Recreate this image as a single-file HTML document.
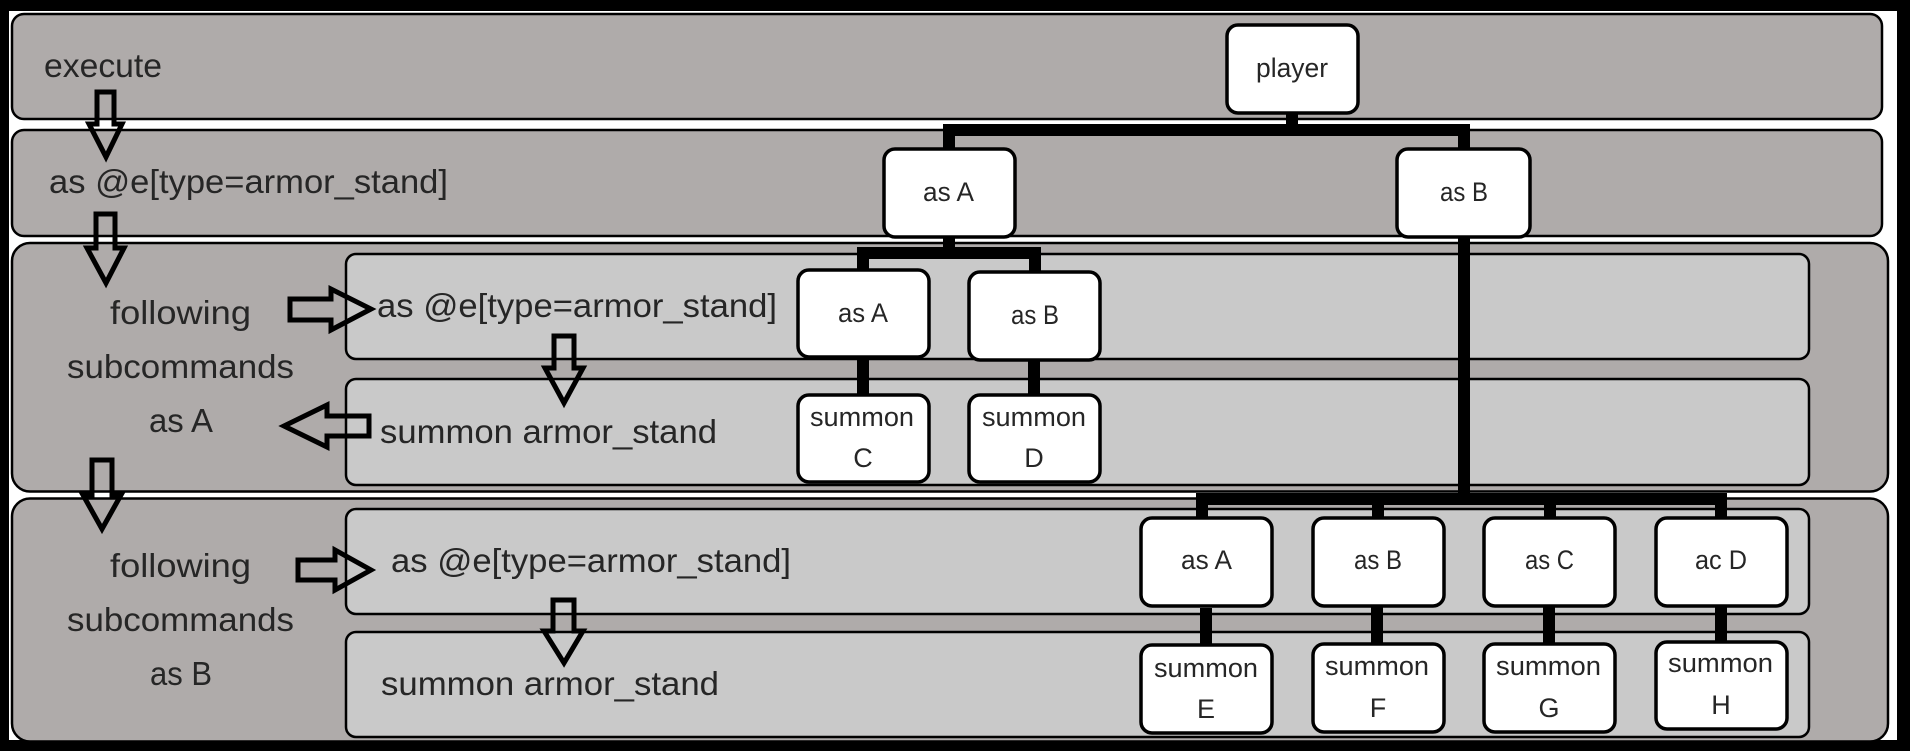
<!DOCTYPE html>
<html>
<head>
<meta charset="utf-8">
<style>
html,body{margin:0;padding:0;background:#fff}
svg{display:block}
text{font-family:"Liberation Sans",sans-serif;fill:#262626}
.l{font-size:33px}
.n{font-size:27px}
.p{fill:#afabaa;stroke:#000;stroke-width:2.5}
.i{fill:#c9c9c9;stroke:#000;stroke-width:2.5}
.b{fill:#fff;stroke:#000;stroke-width:3.5}
.a{fill:none;stroke:#000;stroke-width:5;stroke-linejoin:miter;stroke-miterlimit:3}
.c{fill:#000}
</style>
</head>
<body>
<svg xmlns="http://www.w3.org/2000/svg" width="1910" height="751" viewBox="0 0 1910 751">
<rect width="1910" height="751" fill="#fff"/>
<rect x="0" y="0" width="1910" height="11" fill="#000"/>
<rect x="0" y="740" width="1910" height="11" fill="#000"/>
<rect x="0" y="0" width="9" height="751" fill="#000"/>
<rect x="1897" y="0" width="13" height="751" fill="#000"/>

<rect class="p" x="12" y="14" width="1870" height="105" rx="12"/>
<rect class="p" x="12" y="130" width="1870" height="106" rx="12"/>
<rect class="p" x="12" y="243" width="1876" height="248.5" rx="18"/>
<rect class="p" x="12" y="498.5" width="1876" height="243" rx="18"/>

<rect class="i" x="346" y="254" width="1463" height="105" rx="10"/>
<rect class="i" x="346" y="379" width="1463" height="106" rx="10"/>
<rect class="i" x="346" y="509" width="1463" height="105" rx="10"/>
<rect class="i" x="346" y="632" width="1463" height="105" rx="10"/>

<!-- connectors -->
<rect class="c" x="1286" y="113" width="12" height="23"/>
<rect class="c" x="943" y="124" width="527" height="12"/>
<rect class="c" x="943" y="124" width="12" height="24"/>
<rect class="c" x="1458" y="124" width="12" height="24"/>
<rect class="c" x="943" y="237" width="12" height="22"/>
<rect class="c" x="857" y="247" width="184" height="12"/>
<rect class="c" x="857" y="247" width="12" height="22"/>
<rect class="c" x="1029" y="247" width="12" height="24"/>
<rect class="c" x="857" y="357" width="12" height="37"/>
<rect class="c" x="1028" y="360" width="12" height="34"/>
<rect class="c" x="1458" y="237" width="12" height="268"/>
<rect class="c" x="1196" y="493" width="531" height="12"/>
<rect class="c" x="1196" y="493" width="12" height="24"/>
<rect class="c" x="1372" y="500" width="12" height="17"/>
<rect class="c" x="1544" y="500" width="12" height="17"/>
<rect class="c" x="1715" y="493" width="12" height="24"/>
<rect class="c" x="1200" y="608" width="12" height="36"/>
<rect class="c" x="1371" y="606" width="12" height="37"/>
<rect class="c" x="1543" y="606" width="12" height="37"/>
<rect class="c" x="1715" y="606" width="12" height="35"/>

<!-- nodes -->
<rect class="b" x="1227" y="25" width="131" height="88" rx="11"/>
<rect class="b" x="884" y="149" width="131" height="88" rx="11"/>
<rect class="b" x="1397" y="149" width="133" height="88" rx="11"/>
<rect class="b" x="798" y="270" width="131" height="87" rx="11"/>
<rect class="b" x="969" y="272" width="131" height="88" rx="11"/>
<rect class="b" x="798" y="395" width="131" height="87" rx="11"/>
<rect class="b" x="969" y="395" width="131" height="87" rx="11"/>
<rect class="b" x="1141" y="518" width="131" height="88" rx="11"/>
<rect class="b" x="1313" y="518" width="131" height="88" rx="11"/>
<rect class="b" x="1484" y="518" width="131" height="88" rx="11"/>
<rect class="b" x="1656" y="518" width="131" height="88" rx="11"/>
<rect class="b" x="1141" y="645" width="131" height="88" rx="11"/>
<rect class="b" x="1313" y="644" width="131" height="88" rx="11"/>
<rect class="b" x="1484" y="644" width="131" height="88" rx="11"/>
<rect class="b" x="1656" y="642" width="131" height="87" rx="11"/>

<!-- arrows -->
<polygon class="a" points="97,92 114,92 114,124 122,124 106,157 89,124 97,124"/>
<polygon class="a" points="96,214 115,214 115,248 124,248 106,283 87,248 96,248"/>
<polygon class="a" points="290,299 331,299 331,289 371,309 331,330 331,320 290,320"/>
<polygon class="a" points="554,336 574,336 574,368 583,368 564,403 545,368 554,368"/>
<polygon class="a" points="369,416 327,416 327,405 284,426 327,447 327,436 369,436"/>
<polygon class="a" points="92,460 112,460 112,495 121,495 102,529 83,495 92,495"/>
<polygon class="a" points="298,560 335,560 335,550 371,570 335,590 335,580 298,580"/>
<polygon class="a" points="553,600 574,600 574,631 583,631 564,663 544,631 553,631"/>

<!-- left labels -->
<text class="l" x="44" y="77" textLength="118" lengthAdjust="spacingAndGlyphs">execute</text>
<text class="l" x="49" y="193" textLength="399" lengthAdjust="spacingAndGlyphs">as @e[type=armor_stand]</text>
<text class="l" x="110" y="324" textLength="141" lengthAdjust="spacingAndGlyphs">following</text>
<text class="l" x="67" y="378" textLength="227" lengthAdjust="spacingAndGlyphs">subcommands</text>
<text class="l" x="149" y="432" textLength="64" lengthAdjust="spacingAndGlyphs">as A</text>
<text class="l" x="377" y="317" textLength="400" lengthAdjust="spacingAndGlyphs">as @e[type=armor_stand]</text>
<text class="l" x="380" y="443" textLength="337" lengthAdjust="spacingAndGlyphs">summon armor_stand</text>
<text class="l" x="110" y="577" textLength="141" lengthAdjust="spacingAndGlyphs">following</text>
<text class="l" x="67" y="631" textLength="227" lengthAdjust="spacingAndGlyphs">subcommands</text>
<text class="l" x="150" y="685" textLength="62" lengthAdjust="spacingAndGlyphs">as B</text>
<text class="l" x="391" y="572" textLength="400" lengthAdjust="spacingAndGlyphs">as @e[type=armor_stand]</text>
<text class="l" x="381" y="695" textLength="338" lengthAdjust="spacingAndGlyphs">summon armor_stand</text>

<!-- node labels -->
<text class="n" x="1256" y="77" textLength="72" lengthAdjust="spacingAndGlyphs">player</text>
<text class="n" x="923" y="201" textLength="51" lengthAdjust="spacingAndGlyphs">as A</text>
<text class="n" x="1440" y="201" textLength="48" lengthAdjust="spacingAndGlyphs">as B</text>
<text class="n" x="838" y="322" textLength="50" lengthAdjust="spacingAndGlyphs">as A</text>
<text class="n" x="1011" y="324" textLength="48" lengthAdjust="spacingAndGlyphs">as B</text>
<text class="n" x="810" y="426" textLength="104" lengthAdjust="spacingAndGlyphs">summon</text>
<text class="n" x="863" y="467" text-anchor="middle">C</text>
<text class="n" x="982" y="426" textLength="104" lengthAdjust="spacingAndGlyphs">summon</text>
<text class="n" x="1034" y="467" text-anchor="middle">D</text>
<text class="n" x="1181" y="569" textLength="51" lengthAdjust="spacingAndGlyphs">as A</text>
<text class="n" x="1354" y="569" textLength="48" lengthAdjust="spacingAndGlyphs">as B</text>
<text class="n" x="1525" y="569" textLength="49" lengthAdjust="spacingAndGlyphs">as C</text>
<text class="n" x="1695" y="569" textLength="52" lengthAdjust="spacingAndGlyphs">ac D</text>
<text class="n" x="1154" y="677" textLength="104" lengthAdjust="spacingAndGlyphs">summon</text>
<text class="n" x="1206" y="718" text-anchor="middle">E</text>
<text class="n" x="1325" y="675" textLength="104" lengthAdjust="spacingAndGlyphs">summon</text>
<text class="n" x="1378" y="717" text-anchor="middle">F</text>
<text class="n" x="1496" y="675" textLength="105" lengthAdjust="spacingAndGlyphs">summon</text>
<text class="n" x="1549" y="717" text-anchor="middle">G</text>
<text class="n" x="1668" y="672" textLength="105" lengthAdjust="spacingAndGlyphs">summon</text>
<text class="n" x="1721" y="714" text-anchor="middle">H</text>
</svg>
</body>
</html>
